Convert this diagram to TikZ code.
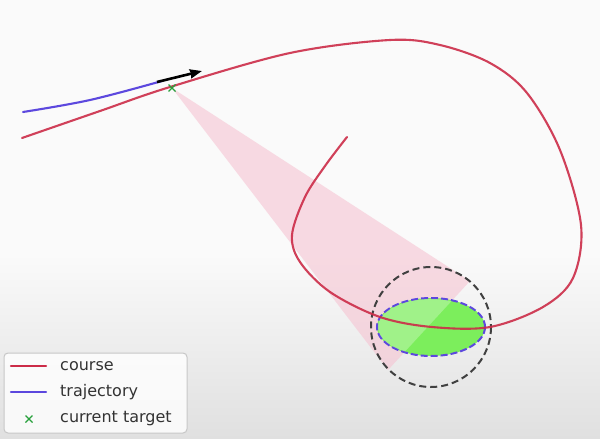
\documentclass[tikz,border=0pt]{standalone}
\usepackage{fontspec}
\setmainfont{DejaVu Sans}
\usetikzlibrary{arrows.meta,calc}
\definecolor{coursecol}{RGB}{204,44,72}
\definecolor{trajcol}{RGB}{92,72,222}
\definecolor{conecol}{RGB}{246,196,210}
\definecolor{okgreen}{RGB}{124,238,92}
\definecolor{markgreen}{RGB}{40,160,60}
\definecolor{bggray}{RGB}{224,224,224}
\tikzset{
  course/.style={draw=coursecol, line width=2.1pt, line cap=round},
  traj/.style={draw=trajcol, line width=2.1pt, line cap=round},
  reach/.style={draw=black!75, line width=2pt, dash pattern=on 7pt off 4pt},
  okzone/.style={fill=okgreen, draw=trajcol, line width=2pt, dash pattern=on 7pt off 3pt},
  legtext/.style={anchor=west, inner sep=0pt, text=black!80, font=\fontsize{16}{19}\selectfont},
  tmark/.style={draw=markgreen, line width=1.4pt}
}
\begin{document}
\begin{tikzpicture}[x=1pt,y=-1pt]
\useasboundingbox (0,0) rectangle (600,439);
% background
\fill[white!98!black] (0,0) rectangle (600,439);
\shade[top color=white!98!black, bottom color=bggray] (0,255) rectangle (600,439);

% named points
\coordinate (apex) at (172,88);
\coordinate (ctr) at (431,327);
\coordinate (cA) at (388,370);
\coordinate (cB) at (470,281);

% view cone
\fill[conecol, fill opacity=0.6] (apex) -- (cA) -- (cB) -- cycle;

% reach circle and goal ellipse
\draw[reach] (ctr) circle[radius=60];
\draw[okzone] (ctr) ellipse[x radius=54, y radius=29];
\begin{scope}
  \clip (apex) -- (cA) -- (cB) -- cycle;
  \fill[white, fill opacity=0.28] (ctr) ellipse[x radius=53, y radius=28];
\end{scope}

% course
\draw[course, draw opacity=0.9] plot[smooth, tension=0.55] coordinates {
  (22,138) (100,111) (170,87) (290,53) (390,40) (440,45) (490,63) (527,93)
  (560,150) (581,225) (573,278) (543,307) (490,327) (432,327) (380,317)
  (330,292) (300,262) (292,235) (305,197) (325,166) (347,137)};

% trajectory
\draw[traj] plot[smooth, tension=0.6] coordinates {(23,112) (90,100) (162,81)};

% heading arrow
\draw[line width=2.6pt, -{Stealth[length=12pt, width=9pt, inset=1pt]}] (157,82) -- (202,71);

% current target marker
\draw[tmark] ($(apex)+(-3.5,-3.5)$) -- ($(apex)+(3.5,3.5)$) ($(apex)+(-3.5,3.5)$) -- ($(apex)+(3.5,-3.5)$);

% legend
\draw[black!22, fill=white, fill opacity=0.8, rounded corners=4pt, line width=1pt] (4,353) rectangle (187,433);
\draw[course] (11,366) -- (46,366);
\draw[traj] (11,392) -- (46,392);
\coordinate (lm) at (29,419);
\draw[tmark] ($(lm)+(-3.5,-3.5)$) -- ($(lm)+(3.5,3.5)$) ($(lm)+(-3.5,3.5)$) -- ($(lm)+(3.5,-3.5)$);
\node[legtext] (l1) at (60,366) {course};
\node[legtext] (l2) at (60,392) {trajectory};
\node[legtext] (l3) at (60,419) {current target};
\end{tikzpicture}
\end{document}
